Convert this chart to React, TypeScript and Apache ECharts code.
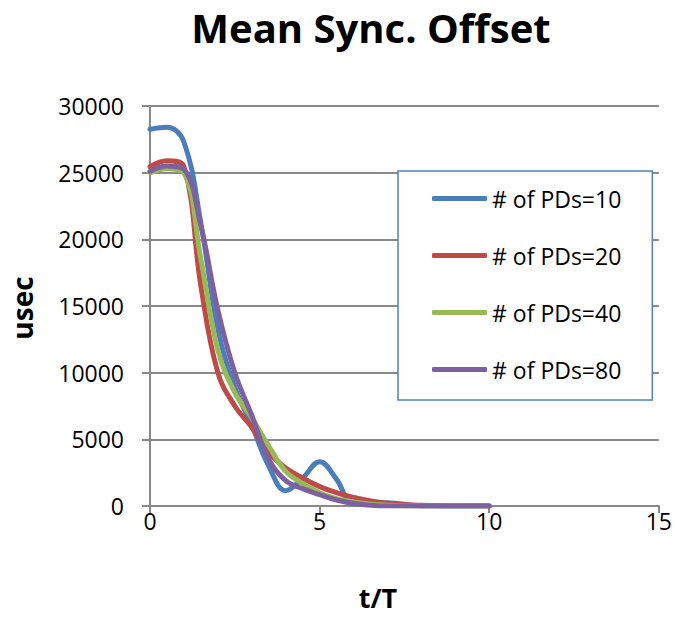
import React, { useEffect, useRef } from "react";
import * as echarts from "echarts";

// t/T sample positions
const tValues = [0, 0.5, 1, 1.5, 2, 2.5, 3, 3.5, 4, 4.5, 5, 5.5, 6, 7, 8, 9, 10];

// Mean sync offset (usec) for each number of PDs
const pd10 = [28250, 28400, 27300, 21200, 13300, 8900, 6050, 3000, 1150, 2100, 3320, 2000, 150, 250, 0, 0, 0];
const pd20 = [25450, 25900, 25450, 16500, 10000, 7500, 5900, 4000, 2850, 2100, 1450, 1000, 650, 200, 50, 0, 0];
const pd40 = [25000, 25300, 25000, 18500, 11700, 8500, 6600, 4500, 2600, 1700, 1000, 550, 300, 50, 0, 0, 0];
const pd80 = [25100, 25500, 25250, 21000, 14700, 10000, 6800, 3500, 1900, 1300, 850, 450, 200, 0, 0, 0, 0];

const seriesNames = ["# of PDs=10", "# of PDs=20", "# of PDs=40", "# of PDs=80"];
const seriesColors = ["#4A7EBB", "#BE4B48", "#98B954", "#7D60A0"];

const FONT = "'Open Sans', 'Noto Sans', sans-serif";
const GRID_GRAY = "#898989";

export default function App() {
  const ref = useRef<HTMLDivElement>(null);

  useEffect(() => {
    document.body.style.margin = "0";
    if (!ref.current) return;
    const chart = echarts.init(ref.current, null, { renderer: "svg" });
    const allSeries = [pd10, pd20, pd40, pd80];

    chart.setOption({
      animation: false,
      backgroundColor: "#ffffff",
      title: {
        text: "Mean Sync. Offset",
        left: 366,
        textAlign: "center",
        top: 2,
        textStyle: { fontFamily: FONT, fontSize: 40, fontWeight: "bold", color: "#000" },
      },
      grid: { left: 150, right: 15, top: 106, bottom: 111, containLabel: false },
      legend: {
        orient: "vertical",
        left: 398,
        top: 171,
        icon: "roundRect",
        itemWidth: 55,
        itemHeight: 5,
        itemGap: 34,
        padding: [16, 31, 19, 34],
        borderColor: "#4F81BD",
        borderWidth: 1.5,
        backgroundColor: "#ffffff",
        textStyle: { fontFamily: FONT, fontSize: 23, color: "#000", lineHeight: 21 },
        data: seriesNames,
      },
      xAxis: {
        type: "value",
        min: 0,
        max: 15,
        interval: 5,
        axisLine: { show: true, lineStyle: { color: GRID_GRAY, width: 2 } },
        axisTick: { show: true, inside: false, length: 7, lineStyle: { color: GRID_GRAY, width: 2 } },
        splitLine: { show: false },
        axisLabel: { fontFamily: FONT, fontSize: 23, color: "#000", margin: 3 },
      },
      yAxis: {
        type: "value",
        min: 0,
        max: 30000,
        interval: 5000,
        axisLine: { show: true, lineStyle: { color: GRID_GRAY, width: 2 } },
        axisTick: { show: true, inside: false, length: 8, lineStyle: { color: GRID_GRAY, width: 2 } },
        splitLine: { show: true, lineStyle: { color: GRID_GRAY, width: 2 } },
        axisLabel: {
          fontFamily: FONT,
          fontSize: 23,
          color: "#000",
          margin: 26,
          formatter: (v: number) => String(v),
        },
      },
      graphic: [
        {
          type: "text",
          x: 22,
          y: 308,
          rotation: Math.PI / 2,
          style: {
            text: "usec",
            fontFamily: FONT,
            fontSize: 28,
            fontWeight: "bold",
            fill: "#000",
            textAlign: "center",
            textVerticalAlign: "middle",
          },
        },
        {
          type: "text",
          x: 378,
          y: 597,
          style: {
            text: "t/T",
            fontFamily: FONT,
            fontSize: 27,
            fontWeight: "bold",
            fill: "#000",
            textAlign: "center",
            textVerticalAlign: "middle",
          },
        },
      ],
      series: allSeries.map((vals, i) => ({
        name: seriesNames[i],
        type: "line",
        smooth: 0.4,
        symbol: "none",
        color: seriesColors[i],
        lineStyle: { width: 5, color: seriesColors[i], cap: "round", join: "round" },
        data: tValues.map((t, j) => [t, vals[j]]),
        z: 2 + i,
      })),
    });

    return () => chart.dispose();
  }, []);

  return <div ref={ref} style={{ width: 675, height: 617 }} />;
}
